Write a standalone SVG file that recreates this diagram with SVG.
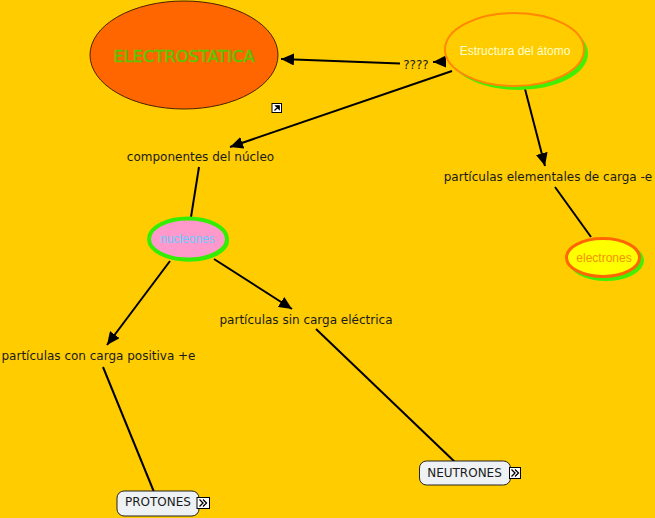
<svg xmlns="http://www.w3.org/2000/svg" width="655" height="518" viewBox="0 0 655 518">
<defs>
<style>
.t{font-family:"DejaVu Sans",Verdana,sans-serif;font-size:12px;fill:#1a1a1a;text-anchor:middle}
.a{font-family:"Liberation Sans",Arial,sans-serif;font-size:12px;text-anchor:middle}
.c{stroke:#000;stroke-width:2;fill:none}
.box{fill:#EEF2F4;stroke:#222;stroke-width:1}
.ico{fill:#fff;stroke:#000;stroke-width:1}
</style>
<marker id="ah" markerWidth="14" markerHeight="12" refX="13" refY="6" orient="auto" markerUnits="userSpaceOnUse">
<path d="M0,0 L13,6 L0,12 z" fill="#000"/>
</marker>
</defs>
<rect width="655" height="518" fill="#FFCC00"/>

<g id="connectors">
<line class="c" x1="446" y1="61.5" x2="433" y2="62" marker-end="url(#ah)"/>
<line class="c" x1="400" y1="63.5" x2="281" y2="59" marker-end="url(#ah)"/>
<line class="c" x1="452" y1="71" x2="230" y2="147" marker-end="url(#ah)"/>
<line class="c" x1="525" y1="89" x2="545" y2="166" marker-end="url(#ah)"/>
<line class="c" x1="555" y1="187" x2="591" y2="237"/>
<line class="c" x1="199" y1="167" x2="191" y2="217"/>
<line class="c" x1="170" y1="261" x2="107" y2="345" marker-end="url(#ah)"/>
<line class="c" x1="214" y1="259" x2="292" y2="309" marker-end="url(#ah)"/>
<line class="c" x1="103" y1="367" x2="154" y2="492"/>
<line class="c" x1="316" y1="329" x2="457" y2="464"/>
</g>

<g id="electrostatica">
<ellipse cx="184" cy="55" rx="94" ry="54" fill="#FF6600" stroke="#4a2200" stroke-width="1"/>
<text x="184" y="62" font-family="DejaVu Sans, Verdana, sans-serif" font-size="16.3" fill="#5CC400" stroke="#5CC400" stroke-width="0.5" text-anchor="middle">ELECTROSTATICA</text>
<g id="link-icon">
<rect x="272" y="103.5" width="9.5" height="9" class="ico"/>
<path d="M274.5,110.5 L279,106 M275.8,105.8 L279.2,105.8 L279.2,109.2 z" stroke="#000" stroke-width="1.3" fill="#000"/>
</g>
</g>

<g id="estructura">
<ellipse cx="518.5" cy="53.5" rx="69.5" ry="36.5" fill="#44EE00"/>
<ellipse cx="514.5" cy="49.5" rx="69.5" ry="36.5" fill="#FFCC00" stroke="#FF8800" stroke-width="2"/>
<text class="a" x="515" y="55" fill="#FFFFCC">Estructura del átomo</text>
</g>

<g id="link-q">
<text class="t" x="416" y="69">????</text>
</g>

<g id="componentes">
<text class="t" x="200.5" y="161">componentes del núcleo</text>
</g>

<g id="elementales">
<text class="t" x="548" y="181">partículas elementales de carga -e</text>
</g>

<g id="electrones">
<ellipse cx="606" cy="260.5" rx="38" ry="20.5" fill="#44EE00"/>
<ellipse cx="603" cy="257.5" rx="36.5" ry="19" fill="#FFFF00" stroke="#FF6600" stroke-width="3"/>
<text class="a" x="604" y="261.5" fill="#F29400">electrones</text>
</g>

<g id="nucleones">
<ellipse cx="190" cy="241" rx="39" ry="20.5" fill="#33EE00"/>
<ellipse cx="188" cy="239" rx="39" ry="20.5" fill="#FF99CC" stroke="#33EE00" stroke-width="4"/>
<text class="a" x="187.5" y="243" fill="#66CCFF">nucleones</text>
</g>

<g id="sin-carga">
<text class="t" x="306" y="324">partículas sin carga eléctrica</text>
</g>

<g id="con-carga">
<text class="t" x="98.5" y="360">partículas con carga positiva +e</text>
</g>

<g id="protones">
<rect class="box" x="117" y="491" width="82" height="25" rx="7"/>
<text class="t" x="158" y="506">PROTONES</text>
<rect class="ico" x="197" y="497.5" width="12.5" height="11"/>
<path d="M199.5,499.5 L203,503 L199.5,506.5 M203,499.5 L206.5,503 L203,506.5" stroke="#000" stroke-width="1.3" fill="none"/>
</g>

<g id="neutrones">
<rect class="box" x="419.5" y="461" width="91" height="24" rx="7"/>
<text class="t" x="464.5" y="477">NEUTRONES</text>
<rect class="ico" x="509.5" y="467.5" width="11" height="11"/>
<path d="M511.5,469.5 L515,473 L511.5,476.5 M515,469.5 L518.5,473 L515,476.5" stroke="#000" stroke-width="1.3" fill="none"/>
</g>
</svg>
